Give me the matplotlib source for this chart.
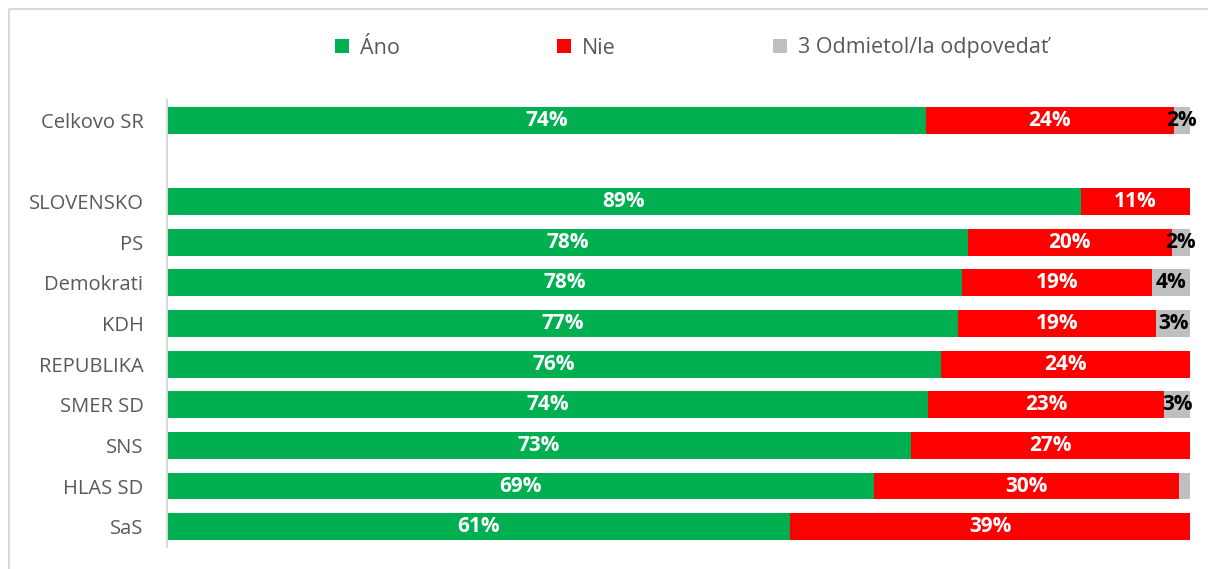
import matplotlib.pyplot as plt
from matplotlib.lines import Line2D

plt.rcParams['font.family'] = ['Open Sans', 'DejaVu Sans']

# categories (empty string = gap row), top to bottom
categories = ['Celkovo SR', '', 'SLOVENSKO', 'PS', 'Demokrati', 'KDH', 'REPUBLIKA',
              'SMER SD', 'SNS', 'HLAS SD', 'SaS']
ano = [74.2, 0, 89.3, 78.3, 77.7, 77.3, 75.7, 74.4, 72.7, 69.1, 60.9]
nie = [24.2, 0, 10.7, 19.9, 18.6, 19.4, 24.3, 23.1, 27.3, 29.8, 39.1]
odmietol = [1.6, 0, 0.0, 1.8, 3.7, 3.3, 0.0, 2.6, 0.0, 1.1, 0.0]
series_names = ['Áno', 'Nie', '3 Odmietol/la odpovedať']
colors = ['#00B050', '#FF0000', '#BFBFBF']
label_colors = ['white', 'white', 'black']

fig = plt.figure(figsize=(12.08, 5.69), dpi=100)
ax = fig.add_axes([167 / 1208, 1 - 547 / 569, (1190 - 167) / 1208, (547 - 100) / 569])

y = list(range(len(categories)))
left = [0] * len(categories)
handles = []
for vals, name, col, lcol in zip([ano, nie, odmietol], series_names, colors, label_colors):
    bars = ax.barh(y, vals, left=left, height=0.66, color=col, label=name)
    handles.append(bars)
    for yi, v, l in zip(y, vals, left):
        if v >= 1.5:
            ax.text(l + v / 2, yi, f'{round(v)}%', ha='center', va='center',
                    color=lcol, fontsize=15, fontweight='bold')
    left = [a + b for a, b in zip(left, vals)]

ax.set_xlim(0, 100)
ax.set_ylim(len(categories) - 0.5, -0.5)
ax.set_yticks(y)
ax.set_yticklabels(categories, fontsize=14.5, color='#595959')
ax.tick_params(axis='y', length=0, pad=17)
ax.set_xticks([])
for s in ['top', 'right', 'bottom']:
    ax.spines[s].set_visible(False)
ax.spines['left'].set_color('#D9D9D9')
ax.spines['left'].set_linewidth(1.5)

fig.legend(handles=handles, loc='center left', bbox_to_anchor=(316 / 1208, 1 - 48 / 569),
           ncol=3, frameon=False, fontsize=15.5, labelcolor='#595959',
           handlelength=0.65, handleheight=0.65, handletextpad=0.5, columnspacing=7.3)

# chart border (top and left edges visible)
fig.add_artist(Line2D([9 / 1208, 9 / 1208, 1], [0, 1 - 9 / 569, 1 - 9 / 569],
                      color='#D9D9D9', linewidth=1.5))

fig.savefig('out.png', dpi=100)
